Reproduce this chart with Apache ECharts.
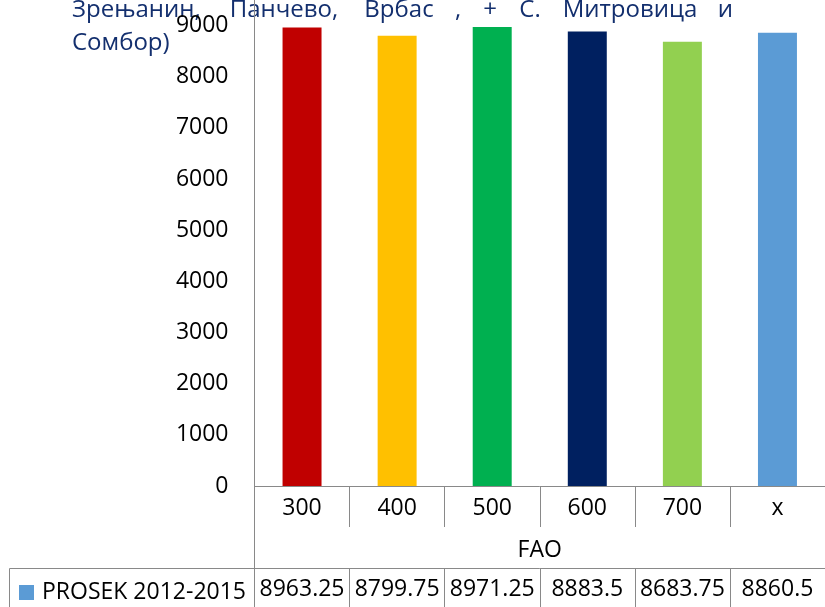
<!DOCTYPE html>
<html><head><meta charset="utf-8">
<script src="https://cdn.jsdelivr.net/npm/echarts@6/dist/echarts.min.js"></script>
<style>html,body{margin:0;padding:0;background:#fff}#c{width:825px;height:607px}</style>
</head><body><div id="c"></div>
<script>
const categories = ['300', '400', '500', '600', '700', 'x'];
const values = [8963.25, 8799.75, 8971.25, 8883.5, 8683.75, 8860.5];
const barColors = ['#C00000', '#FFC000', '#00B050', '#002060', '#92D050', '#5B9BD5'];
const seriesName = 'PROSEK 2012-2015';
const axisName = 'FAO';
const yMin = 0, yMax = 9000, yStep = 1000;
// [word, x, align, line]
const titleWords = [
  ['Зрењанин,', 72, 'left', 0], ['Панчево,', 284, 'center', 0], ['Врбас', 399, 'center', 0],
  [',', 458, 'center', 0], ['+', 490, 'center', 0], ['С.', 530, 'center', 0],
  ['Митровица', 630, 'center', 0], ['и', 733, 'right', 0], ['Сомбор)', 72, 'left', 1]
];

const FONT = 'Open Sans';
const GRAY = '#898989';
const TITLE_COLOR = '#132F6E';
const chart = echarts.init(document.getElementById('c'));

const graphics = [];
titleWords.forEach(w => {
  graphics.push({
    type: 'text', x: w[1], y: w[3] === 0 ? -2 : 31, silent: true,
    style: { text: w[0], fontFamily: FONT, fontSize: 24, fill: TITLE_COLOR, align: w[2], verticalAlign: 'top' }
  });
});
// table borders outside the grid
graphics.push({ type: 'line', silent: true, shape: { x1: 254.5, y1: 0, x2: 254.5, y2: 607 }, style: { stroke: GRAY, lineWidth: 1 } });
graphics.push({ type: 'line', silent: true, shape: { x1: 9.5, y1: 568.5, x2: 254.5, y2: 568.5 }, style: { stroke: GRAY, lineWidth: 1 } });
graphics.push({ type: 'line', silent: true, shape: { x1: 9.5, y1: 568.5, x2: 9.5, y2: 607 }, style: { stroke: GRAY, lineWidth: 1 } });

chart.setOption({
  animation: false,
  textStyle: { fontFamily: FONT },
  grid: { left: 254.5, right: -4, top: 25.5, bottom: 121, containLabel: false },
  legend: {
    show: true, left: 19, top: 581, padding: 0, itemWidth: 15, itemHeight: 15, icon: 'rect',
    data: [seriesName],
    textStyle: { fontSize: 23, color: '#000', fontFamily: FONT, padding: [0, 0, 0, 3] }
  },
  xAxis: [
    {
      type: 'category', data: categories, position: 'bottom',
      axisLine: { show: true, lineStyle: { color: GRAY } },
      axisTick: { show: true, length: 41, alignWithLabel: false, interval: 0, lineStyle: { color: GRAY } },
      axisLabel: { fontSize: 23, color: '#000', margin: 11, lineHeight: 23, interval: 0 },
      name: axisName, nameLocation: 'middle', nameGap: 53,
      nameTextStyle: { fontSize: 23, color: '#000', lineHeight: 23 },
      splitLine: { show: false }
    },
    {
      type: 'category', data: categories, position: 'bottom', offset: 82,
      axisLine: { show: true, lineStyle: { color: GRAY } },
      axisTick: { show: true, length: 40, alignWithLabel: false, interval: 0, lineStyle: { color: GRAY } },
      axisLabel: { fontSize: 23, color: '#000', margin: 10, lineHeight: 23, interval: 0,
        formatter: (v, i) => String(values[i]) },
      splitLine: { show: false }
    }
  ],
  yAxis: {
    type: 'value', min: yMin, max: yMax, interval: yStep,
    axisLine: { show: true, lineStyle: { color: GRAY } },
    axisTick: { show: false },
    axisLabel: { fontSize: 23, color: '#000', margin: 26, formatter: v => String(v) },
    splitLine: { show: false }
  },
  series: [{
    name: seriesName, type: 'bar', barWidth: '41%', xAxisIndex: 0,
    itemStyle: { color: '#5B9BD5' },
    data: values.map((v, i) => ({ value: v, itemStyle: { color: barColors[i] } }))
  }],
  graphic: graphics
});
</script></body></html>
